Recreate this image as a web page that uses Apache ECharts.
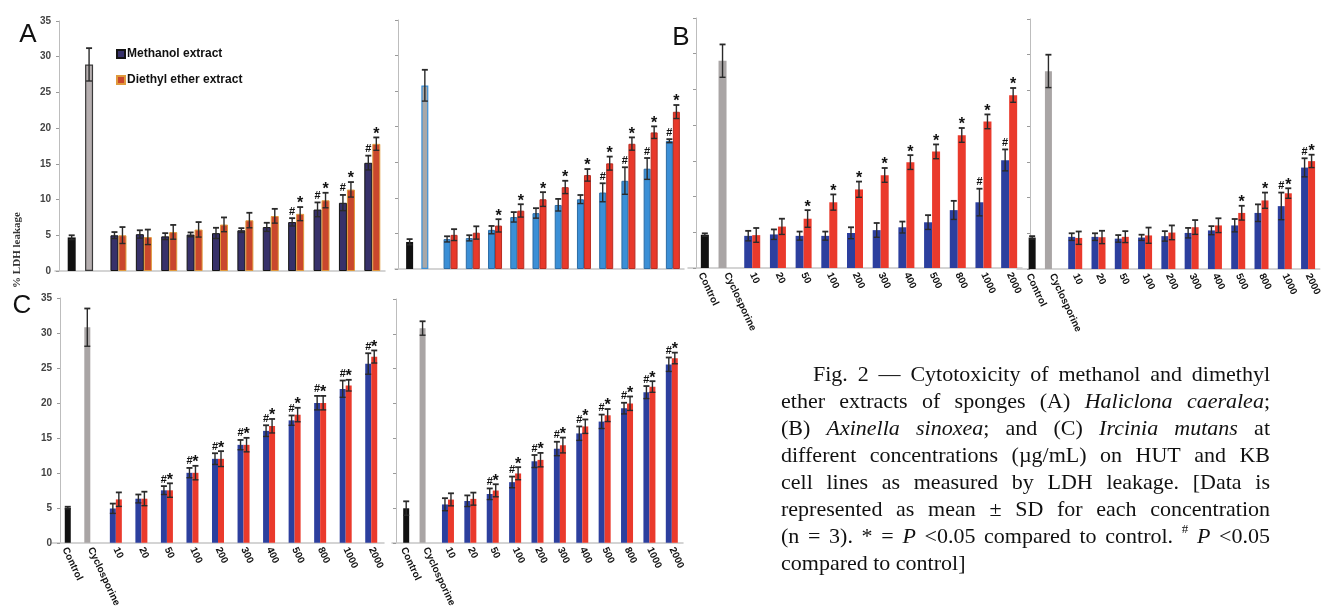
<!DOCTYPE html>
<html>
<head>
<meta charset="utf-8">
<title>LDH leakage</title>
<script src="https://cdn.jsdelivr.net/npm/echarts@6/dist/echarts.min.js"></script>
<style>
html, body { margin: 0; padding: 0; background: #fff; }
#main { width: 1323px; height: 610px; }
</style>
</head>
<body>
<div id="main"></div>
<script>
/* LDH leakage bar charts, panels A/B/C, HUT (left) and KB (right) */

var concLabels = ['10', '20', '50', '100', '200', '300', '400', '500', '800', '1000', '2000'];
var categories = ['Control', 'Cyclosporine'].concat(concLabels);
var yTicks = [0, 5, 10, 15, 20, 25, 30, 35];

// A - Haliclona caeralea, HUT
var aHutControl = [4.7, 28.9];
var aHutControlSd = [0.3, 2.3];
var aHutMeth = [5.0, 5.15, 4.85, 5.1, 5.3, 5.7, 6.15, 6.85, 8.6, 9.55, 15.15];
var aHutMethSd = [0.45, 0.55, 0.45, 0.3, 0.75, 0.3, 0.6, 0.55, 1.0, 1.1, 1.0];
var aHutMethSig = ['', '', '', '', '', '', '', '#', '#', '#', '#'];
var aHutEther = [5.0, 4.75, 5.45, 5.8, 6.5, 7.1, 7.7, 8.0, 9.9, 11.4, 17.8];
var aHutEtherSd = [1.15, 1.05, 1.0, 1.05, 1.0, 1.05, 1.0, 0.95, 1.05, 1.05, 0.9];
var aHutEtherSig = ['', '', '', '', '', '', '', '*', '*', '*', '*'];

// A - KB
var aKbControl = [3.8, 25.8];
var aKbControlSd = [0.4, 2.2];
var aKbMeth = [4.2, 4.35, 5.5, 7.3, 7.85, 9.0, 9.8, 10.75, 12.4, 14.1, 18.0];
var aKbMethSd = [0.4, 0.4, 0.55, 0.7, 0.7, 0.85, 0.6, 1.3, 1.9, 1.5, 0.25];
var aKbMethSig = ['', '', '', '', '', '', '', '#', '#', '#', '#'];
var aKbEther = [4.8, 5.1, 6.1, 8.2, 9.8, 11.5, 13.2, 14.85, 17.6, 19.2, 22.1];
var aKbEtherSd = [0.8, 0.9, 0.9, 0.9, 1.0, 0.9, 0.85, 0.95, 0.9, 0.85, 0.95];
var aKbEtherSig = ['', '', '*', '*', '*', '*', '*', '*', '*', '*', '*'];

// B - Axinella sinoxea, HUT
var bHutControl = [4.65, 29.0];
var bHutControlSd = [0.2, 2.3];
var bHutMeth = [4.5, 4.7, 4.5, 4.5, 4.9, 5.3, 5.7, 6.4, 8.1, 9.2, 15.1];
var bHutMethSd = [0.7, 0.7, 0.6, 0.6, 0.8, 1.0, 0.8, 1.0, 1.3, 1.9, 1.5];
var bHutMethSig = ['', '', '', '', '', '', '', '', '', '#', '#'];
var bHutEther = [4.6, 5.8, 6.9, 9.2, 11.0, 13.0, 14.8, 16.3, 18.6, 20.5, 24.2];
var bHutEtherSd = [1.0, 1.1, 1.2, 1.1, 1.1, 1.0, 1.0, 1.0, 1.0, 1.0, 1.0];
var bHutEtherSig = ['', '', '*', '*', '*', '*', '*', '*', '*', '*', '*'];

// B - KB
var bKbControl = [4.4, 27.7];
var bKbControlSd = [0.2, 2.3];
var bKbMeth = [4.5, 4.5, 4.25, 4.4, 4.6, 5.05, 5.4, 6.1, 7.85, 8.8, 14.2];
var bKbMethSd = [0.5, 0.5, 0.5, 0.4, 0.7, 0.7, 0.6, 0.9, 1.2, 1.9, 1.3];
var bKbMethSig = ['', '', '', '', '', '', '', '', '', '#', '#'];
var bKbEther = [4.35, 4.45, 4.5, 4.7, 5.1, 5.85, 6.1, 7.85, 9.6, 10.6, 15.1];
var bKbEtherSd = [0.9, 0.9, 0.8, 1.1, 1.0, 1.0, 1.0, 1.0, 1.1, 0.7, 0.9];
var bKbEtherSig = ['', '', '', '', '', '', '', '*', '*', '*', '*'];

// C - Ircinia mutans, HUT
var cHutControl = [5.0, 30.8];
var cHutControlSd = [0.15, 2.7];
var cHutMeth = [4.9, 6.3, 7.5, 10.0, 12.0, 14.0, 16.0, 17.5, 20.0, 22.0, 25.6];
var cHutMethSd = [0.7, 0.6, 0.6, 0.7, 0.8, 0.7, 0.8, 0.7, 1.0, 1.2, 1.5];
var cHutMethSig = ['', '', '#', '#', '#', '#', '#', '#', '#', '#', '#'];
var cHutEther = [6.2, 6.3, 7.5, 10.0, 12.0, 14.0, 16.7, 18.3, 20.0, 22.5, 26.6];
var cHutEtherSd = [1.0, 1.0, 1.0, 1.0, 1.1, 1.0, 1.0, 1.0, 1.0, 0.8, 0.9];
var cHutEtherSig = ['', '', '*', '*', '*', '*', '*', '*', '*', '*', '*'];

// C - KB
var cKbControl = [4.95, 30.8];
var cKbControlSd = [1.0, 1.0];
var cKbMeth = [5.5, 6.0, 7.0, 8.7, 11.7, 13.5, 15.7, 17.4, 19.3, 21.6, 25.6];
var cKbMethSd = [0.9, 0.8, 0.8, 0.8, 0.9, 1.0, 1.0, 1.0, 0.8, 0.9, 1.0];
var cKbMethSig = ['', '', '#', '#', '#', '#', '#', '#', '#', '#', '#'];
var cKbEther = [6.2, 6.3, 7.5, 9.95, 11.9, 14.0, 16.7, 18.3, 20.0, 22.4, 26.5];
var cKbEtherSd = [0.9, 0.9, 0.9, 0.9, 1.0, 1.1, 1.0, 0.9, 1.0, 0.8, 0.8];
var cKbEtherSig = ['', '', '*', '*', '*', '*', '*', '*', '*', '*', '*'];

var captionLines = [
	'Fig. 2 \u2014 Cytotoxicity of methanol and dimethyl',
	'ether extracts of sponges (A) _Haliclona_ _caeralea_;',
	'(B) _Axinella_ _sinoxea_; and (C) _Ircinia_ _mutans_ at',
	'different concentrations (\u00b5g/mL) on HUT and KB',
	'cell lines as measured by LDH leakage. [Data is',
	'represented as mean \u00b1 SD for each concentration',
	'(n = 3). * = _P_ <0.05 compared to control. ^# _P_ <0.05',
	'compared to control]'
];

var fontNarrow = '"Liberation Sans Narrow", "Liberation Sans", sans-serif';
var fontSerif = '"Liberation Serif", "Times New Roman", serif';
var fontSans = '"Liberation Sans", Arial, sans-serif';
var errColor = '#2a2a2a';

var grids = [], xAxes = [], yAxes = [], seriesList = [];

/**
 * error bar + significance mark renderer
 * @param offset  px shift from category centre (number or per-item array)
 * @param sigs    marks above each bar, or null
 */
function errorRenderer(offset, sigs) {
	return function (params, api) {
		var idx = api.value(0), mean = api.value(1), sd = api.value(2);
		var top = api.coord([idx, mean + sd]);
		var bot = api.coord([idx, mean - sd]);
		var dx = typeof offset === 'number' ? offset : offset[params.dataIndex];
		var x = top[0] + dx;
		var cap = 3;
		var line = { stroke: errColor, lineWidth: 1.4 };
		var children = [
			{ type: 'line', shape: { x1: x, y1: top[1], x2: x, y2: bot[1] }, style: line },
			{ type: 'line', shape: { x1: x - cap, y1: top[1], x2: x + cap, y2: top[1] }, style: { stroke: errColor, lineWidth: 1.8 } },
			{ type: 'line', shape: { x1: x - cap, y1: bot[1], x2: x + cap, y2: bot[1] }, style: line }
		];
		var s = sigs ? sigs[params.dataIndex] : '';
		if (s) {
			children.push({
				type: 'text', x: x, y: s === '*' ? top[1] + 5 : top[1] - 1,
				style: {
					text: s, align: 'center', verticalAlign: 'bottom',
					fontSize: s === '*' ? 16 : 11, fontWeight: 'bold',
					fontFamily: fontSans, fill: '#111'
				}
			});
		}
		return { type: 'group', children: children };
	};
}

function pad(arr) {
	return ['-', '-'].concat(arr);
}

function blanks(n) {
	var out = [];
	for (var k = 0; k < n; k++) out.push('-');
	return out;
}

function errRows(values, sds, start) {
	return values.map(function (v, j) { return [j + start, v, sds[j]]; });
}

/**
 * one panel: grid, axes, bars, error bars
 */
function addPanel(p) {
	var gi = grids.length;
	var xi = xAxes.length;
	var w = p.barWidth;
	var c = p.colors;
	grids.push({ left: p.left, top: p.top, width: p.width, height: p.height });
	xAxes.push({
		type: 'category', gridIndex: gi, data: categories,
		axisLine: { lineStyle: { color: '#c6c6c6', width: 1.5 } },
		axisTick: { show: false },
		axisLabel: {
			show: p.xLabels, interval: 0, rotate: -65, margin: 5,
			fontSize: 10, fontWeight: 'bold', color: '#111', fontFamily: fontNarrow
		}
	});
	// second, hidden axis for control / cyclosporine bars
	xAxes.push({ type: 'category', gridIndex: gi, data: categories, show: false });
	yAxes.push({
		type: 'value', gridIndex: gi, min: yTicks[0], max: yTicks[yTicks.length - 1], interval: 5,
		offset: p.yOffset,
		splitLine: { show: false },
		axisLine: { show: true, lineStyle: { color: '#bdbdbd', width: 1 } },
		axisTick: { show: true, length: 3, lineStyle: { color: '#9a9a9a' } },
		axisLabel: {
			show: p.yLabels, margin: 8, fontSize: 10, fontWeight: 'bold',
			color: '#444', fontFamily: fontNarrow
		}
	});
	seriesList.push({
		name: 'Methanol extract', type: 'bar', xAxisIndex: xi, yAxisIndex: gi,
		barWidth: w, barGap: '0%', data: pad(p.meth),
		itemStyle: { color: c.meth, borderColor: c.methBorder || c.meth, borderWidth: c.methBorder ? 1 : 0 }
	});
	seriesList.push({
		name: 'Diethyl ether extract', type: 'bar', xAxisIndex: xi, yAxisIndex: gi,
		barWidth: w, barGap: '0%', data: pad(p.ether),
		itemStyle: { color: c.ether, borderColor: c.etherBorder || c.ether, borderWidth: c.etherBorder ? 1 : 0 }
	});
	// cyclosporine sits in the left slot, control in the right slot
	seriesList.push({
		type: 'bar', xAxisIndex: xi + 1, yAxisIndex: gi, barWidth: w, barGap: '0%',
		data: ['-', p.ctrl[1]].concat(blanks(concLabels.length)),
		itemStyle: { color: c.cyclo, borderColor: c.cycloBorder || c.cyclo, borderWidth: c.cycloBorder ? 1.2 : 0 }
	});
	seriesList.push({
		type: 'bar', xAxisIndex: xi + 1, yAxisIndex: gi, barWidth: w, barGap: '0%',
		data: [p.ctrl[0], '-'].concat(blanks(concLabels.length)),
		itemStyle: { color: c.ctrl }
	});
	seriesList.push({
		type: 'custom', xAxisIndex: xi, yAxisIndex: gi, z: 5,
		renderItem: errorRenderer(-w / 2, p.methSig),
		encode: { x: 0, y: 1 }, data: errRows(p.meth, p.methSd, 2)
	});
	seriesList.push({
		type: 'custom', xAxisIndex: xi, yAxisIndex: gi, z: 5,
		renderItem: errorRenderer(w / 2, p.etherSig),
		encode: { x: 0, y: 1 }, data: errRows(p.ether, p.etherSd, 2)
	});
	seriesList.push({
		type: 'custom', xAxisIndex: xi + 1, yAxisIndex: gi, z: 5,
		renderItem: errorRenderer([w / 2, -w / 2], null),
		encode: { x: 0, y: 1 }, data: errRows(p.ctrl, p.ctrlSd, 0)
	});
}

var colA1 = { meth: '#37316a', methBorder: '#141414', ether: '#c9472d', etherBorder: '#e09a3c', ctrl: '#111', cyclo: '#b6afb0', cycloBorder: '#3a3a3a' };
var colA2 = { meth: '#3b8fd6', methBorder: '#2c6ca6', ether: '#e8392b', etherBorder: '#b92d22', ctrl: '#111', cyclo: '#a8a8a8', cycloBorder: '#3b8fd6' };
var colBC = { meth: '#2c3f9e', ether: '#ea3a2c', ctrl: '#111', cyclo: '#a9a5a5' };

addPanel({ left: 55, top: 21, width: 330, height: 250, yOffset: -4, yLabels: true, xLabels: false, barWidth: 8, colors: colA1,
	ctrl: aHutControl, ctrlSd: aHutControlSd, meth: aHutMeth, methSd: aHutMethSd, methSig: aHutMethSig,
	ether: aHutEther, etherSd: aHutEtherSd, etherSig: aHutEtherSig });
addPanel({ left: 395, top: 20, width: 289, height: 249, yOffset: -3, yLabels: false, xLabels: false, barWidth: 7, colors: colA2,
	ctrl: aKbControl, ctrlSd: aKbControlSd, meth: aKbMeth, methSd: aKbMethSd, methSig: aKbMethSig,
	ether: aKbEther, etherSd: aKbEtherSd, etherSig: aKbEtherSig });
addPanel({ left: 688, top: 18, width: 334, height: 250, yOffset: -8, yLabels: false, xLabels: true, barWidth: 8, colors: colBC,
	ctrl: bHutControl, ctrlSd: bHutControlSd, meth: bHutMeth, methSd: bHutMethSd, methSig: bHutMethSig,
	ether: bHutEther, etherSd: bHutEtherSd, etherSig: bHutEtherSig });
addPanel({ left: 1017, top: 19, width: 310, height: 250, yOffset: -13, yLabels: false, xLabels: true, barWidth: 7, colors: colBC,
	ctrl: bKbControl, ctrlSd: bKbControlSd, meth: bKbMeth, methSd: bKbMethSd, methSig: bKbMethSig,
	ether: bKbEther, etherSd: bKbEtherSd, etherSig: bKbEtherSig });
addPanel({ left: 52, top: 298, width: 332, height: 249, yOffset: -8, yLabels: true, xLabels: true, barWidth: 6, colors: colBC,
	ctrl: cHutControl, ctrlSd: cHutControlSd, meth: cHutMeth, methSd: cHutMethSd, methSig: cHutMethSig,
	ether: cHutEther, etherSd: cHutEtherSd, etherSig: cHutEtherSig });
addPanel({ left: 392, top: 299, width: 291, height: 250, yOffset: -4, yLabels: false, xLabels: true, barWidth: 6, colors: colBC,
	ctrl: cKbControl, ctrlSd: cKbControlSd, meth: cKbMeth, methSd: cKbMethSd, methSig: cKbMethSig,
	ether: cKbEther, etherSd: cKbEtherSd, etherSig: cKbEtherSig });

/**
 * justified caption, word by word
 */
function buildCaption() {
	var ctx = document.createElement('canvas').getContext('2d');
	var size = 22, left = 781, right = 1270, top = 375, lineH = 27, indent = 32;
	var els = [];
	ctx.font = size + 'px ' + fontSerif;
	var space = ctx.measureText(' ').width;
	captionLines.forEach(function (line, li) {
		var words = line.split(' ').map(function (w) {
			var sup = false;
			if (w.charAt(0) === '^') { sup = true; w = w.slice(1); }
			var runs = [];
			w.split('_').forEach(function (seg, k) {
				if (!seg) return;
				var r = { text: seg, italic: k % 2 === 1, sup: sup, size: sup ? 13 : size };
				ctx.font = (r.italic ? 'italic ' : '') + r.size + 'px ' + fontSerif;
				r.width = ctx.measureText(seg).width;
				runs.push(r);
			});
			var width = 0;
			runs.forEach(function (r) { width += r.width; });
			return { runs: runs, width: width };
		});
		var x0 = left + (li === 0 ? indent : 0);
		var total = 0;
		words.forEach(function (w) { total += w.width; });
		var last = li === captionLines.length - 1;
		var gap = last ? space : (right - x0 - total) / (words.length - 1);
		var x = x0, y = top + li * lineH;
		words.forEach(function (w) {
			var rx = x;
			w.runs.forEach(function (r) {
				els.push({
					type: 'text', x: rx, y: r.sup ? y - 7 : y,
					style: {
						text: r.text, fontSize: r.size, fontFamily: fontSerif,
						fontStyle: r.italic ? 'italic' : 'normal', fill: '#111', verticalAlign: 'middle'
					}
				});
				rx += r.width;
			});
			x += w.width + gap;
		});
	});
	return els;
}

var graphics = [
	{ type: 'text', x: 28, y: 35, style: { text: 'A', fontSize: 26, fontFamily: fontSans, fill: '#111', align: 'center', verticalAlign: 'middle' } },
	{ type: 'text', x: 681, y: 38, style: { text: 'B', fontSize: 26, fontFamily: fontSans, fill: '#111', align: 'center', verticalAlign: 'middle' } },
	{ type: 'text', x: 22, y: 306, style: { text: 'C', fontSize: 26, fontFamily: fontSans, fill: '#111', align: 'center', verticalAlign: 'middle' } },
	{ type: 'text', x: 17, y: 250, rotation: Math.PI / 2, style: { text: '% LDH leakage', fontSize: 11, fontWeight: 'bold', fontFamily: fontSerif, fill: '#333', align: 'center', verticalAlign: 'middle' } }
].concat(buildCaption());

var chart = echarts.init(document.getElementById('main'));
chart.setOption({
	animation: false,
	backgroundColor: '#fff',
	legend: {
		data: ['Methanol extract', 'Diethyl ether extract'],
		selectedMode: false, orient: 'vertical', left: 111, top: 43,
		itemWidth: 8, itemHeight: 8, itemGap: 14, icon: 'rect',
		textStyle: { fontSize: 12, fontWeight: 'bold', color: '#111', fontFamily: fontNarrow, padding: [0, 0, 0, -3] }
	},
	grid: grids,
	xAxis: xAxes,
	yAxis: yAxes,
	series: seriesList,
	graphic: graphics
});
</script>
</body>
</html>
